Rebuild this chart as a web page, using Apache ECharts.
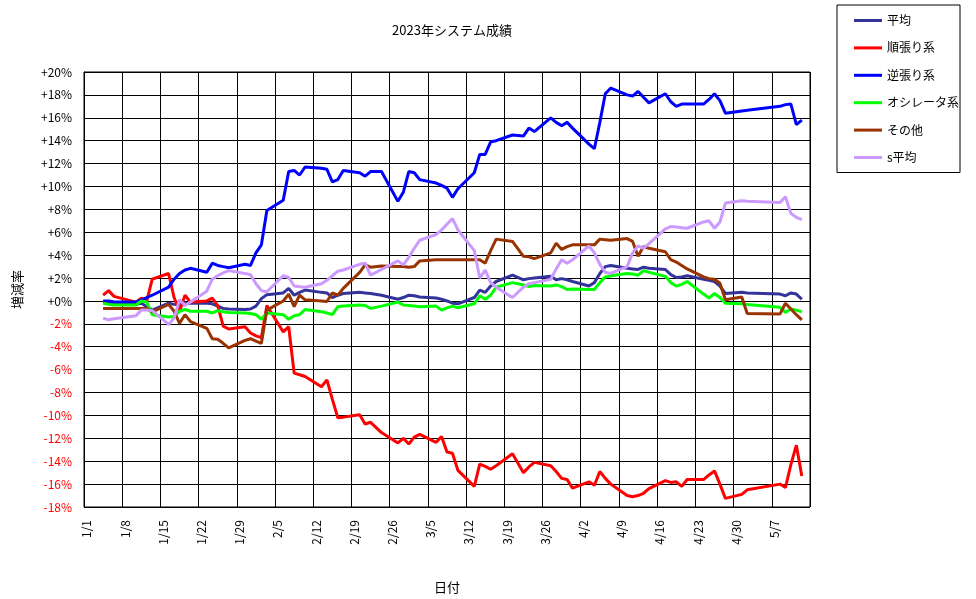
<!DOCTYPE html>
<html>
<head>
<meta charset="utf-8">
<title>2023年システム成績</title>
<script src="https://cdn.jsdelivr.net/npm/echarts@6/dist/echarts.min.js"></script>
<style>
  html, body { margin: 0; padding: 0; background: #fff; }
  #chart { width: 976px; height: 599px; }
</style>
</head>
<body>
<div id="chart"></div>
<script>
// 日付 (取引日)
var dates = [
  '1/4','1/5','1/6','1/10','1/11','1/12','1/13','1/16','1/17','1/18','1/19','1/20','1/23','1/24','1/25','1/26','1/27','1/30','1/31',
  '2/1','2/2','2/3','2/6','2/7','2/8','2/9','2/10','2/13','2/14','2/15','2/16','2/17','2/20','2/21','2/22','2/24','2/27','2/28',
  '3/1','3/2','3/3','3/6','3/7','3/8','3/9','3/10','3/13','3/14','3/15','3/16','3/17','3/20','3/22','3/23','3/24','3/27','3/28','3/29','3/30','3/31',
  '4/3','4/4','4/5','4/6','4/7','4/10','4/11','4/12','4/13','4/14','4/17','4/18','4/19','4/20','4/21','4/24','4/25','4/26','4/27','4/28',
  '5/1','5/2','5/8','5/9','5/10','5/11','5/12'
];

// 増減率 (%)
var heikin = [
  -0.1,-0.2,-0.3,-0.3,-0.2,-0.5,-0.8,-0.2,-0.3,-0.35,-0.25,-0.2,-0.2,-0.25,-0.45,-0.65,-0.7,-0.75,-0.7,
  -0.45,0.2,0.55,0.7,1.1,0.5,0.75,0.95,0.75,0.7,0.3,0.5,0.65,0.75,0.7,0.65,0.5,0.15,0.3,
  0.5,0.45,0.35,0.25,0.15,0.0,-0.2,-0.25,0.3,0.95,0.75,1.3,1.7,2.25,1.85,1.95,2.0,2.15,1.85,1.95,1.85,1.7,
  1.3,1.6,2.4,3.0,3.1,2.85,2.8,2.75,2.95,2.85,2.75,2.3,2.05,2.1,2.2,1.9,1.8,1.7,1.3,0.65,
  0.75,0.7,0.6,0.45,0.7,0.6,0.15
];
var junbari = [
  0.5,0.9,0.4,-0.1,0.25,0.0,1.9,2.4,0.3,-0.9,0.5,-0.1,0.0,0.25,-0.4,-2.2,-2.45,-2.25,-2.8,
  -3.05,-3.2,-0.4,-2.7,-2.25,-6.3,-6.45,-6.6,-7.5,-6.9,-8.6,-10.2,-10.15,-9.95,-10.75,-10.6,-11.5,-12.4,-12.0,
  -12.5,-11.9,-11.65,-12.35,-11.85,-13.2,-13.3,-14.8,-16.2,-14.25,-14.45,-14.7,-14.4,-13.35,-15.0,-14.5,-14.1,-14.4,-14.9,-15.5,-15.6,-16.35,
  -15.8,-16.1,-14.9,-15.5,-16.0,-17.0,-17.1,-17.0,-16.8,-16.4,-15.7,-15.85,-15.8,-16.2,-15.6,-15.6,-15.2,-14.85,-16.0,-17.25,
  -16.9,-16.5,-16.0,-16.3,-14.3,-12.6,-15.3
];
var gyakubari = [
  0.0,0.0,-0.1,-0.1,0.1,0.3,0.5,1.2,1.9,2.4,2.7,2.85,2.5,3.3,3.1,3.0,2.9,3.2,3.1,
  4.2,4.9,7.9,8.8,11.3,11.4,11.0,11.7,11.6,11.5,10.4,10.6,11.4,11.2,10.9,11.3,11.3,8.7,9.5,
  11.3,11.2,10.6,10.3,10.1,9.85,9.05,9.8,11.2,12.8,12.8,13.9,14.0,14.5,14.4,15.1,14.8,16.0,15.6,15.3,15.6,15.1,
  13.7,13.3,15.6,18.1,18.6,18.0,17.9,18.3,17.8,17.3,18.1,17.4,17.0,17.2,17.2,17.2,17.6,18.1,17.5,16.4,
  16.6,16.65,17.0,17.15,17.2,15.4,15.8
];
var oscillator = [
  -0.2,-0.3,-0.35,-0.35,0.0,-0.1,-1.2,-1.4,-1.35,-0.9,-0.75,-0.9,-0.9,-1.05,-0.85,-0.95,-1.0,-1.05,-1.1,
  -1.2,-1.6,-1.05,-1.2,-1.6,-1.3,-1.2,-0.75,-0.95,-1.05,-1.2,-0.5,-0.45,-0.35,-0.4,-0.65,-0.45,-0.1,-0.35,
  -0.4,-0.45,-0.5,-0.45,-0.8,-0.6,-0.45,-0.6,-0.25,0.45,0.15,0.5,1.2,1.6,1.4,1.25,1.35,1.3,1.4,1.25,1.0,1.05,
  1.0,1.0,1.6,2.1,2.2,2.4,2.35,2.25,2.65,2.5,2.15,1.6,1.3,1.45,1.7,0.6,0.25,0.65,0.3,-0.2,
  -0.25,-0.3,-0.55,-1.0,-0.7,-0.8,-0.95
];
var sonota = [
  -0.65,-0.65,-0.65,-0.65,-0.65,-0.65,-0.95,-0.3,-0.9,-1.95,-1.2,-1.8,-2.4,-3.3,-3.35,-3.7,-4.1,-3.45,-3.3,
  -3.5,-3.7,-0.8,0.0,0.6,-0.5,0.5,0.1,0.0,-0.05,0.7,0.5,1.1,2.5,3.15,2.95,3.05,3.0,3.0,
  2.95,3.0,3.5,3.6,3.6,3.6,3.6,3.6,3.6,3.6,3.3,4.4,5.4,5.2,3.9,3.85,3.7,4.2,5.05,4.5,4.75,4.9,
  4.9,4.9,5.4,5.35,5.3,5.45,5.2,3.9,4.75,4.6,4.3,3.6,3.4,3.1,2.8,2.1,1.95,1.9,1.55,0.1,
  0.35,-1.1,-1.15,-0.2,-0.7,-1.2,-1.65
];
var sHeikin = [
  -1.5,-1.65,-1.55,-1.3,-0.8,-0.8,-0.85,-2.05,-1.5,0.1,-0.4,-0.1,0.85,1.9,2.2,2.45,2.65,2.4,2.3,
  1.5,0.9,0.8,2.2,2.05,1.3,1.25,1.2,1.5,1.8,2.2,2.6,2.7,3.2,3.3,2.25,2.75,3.5,3.15,
  3.8,4.6,5.3,5.8,6.2,6.7,7.2,6.2,4.4,2.0,2.7,1.6,1.2,0.3,1.2,1.5,1.6,1.9,2.8,3.6,3.3,3.6,
  4.8,4.2,3.2,2.5,2.4,3.0,4.2,4.8,4.6,5.0,6.3,6.5,6.45,6.4,6.35,6.9,7.0,6.35,6.9,8.55,
  8.75,8.7,8.6,9.1,7.65,7.3,7.1
];

var seriesNames = ['平均', '順張り系', '逆張り系', 'オシレータ系', 'その他', 's平均'];
var seriesValues = [heikin, junbari, gyakubari, oscillator, sonota, sHeikin];
var seriesColors = ['#333399', '#ff0000', '#0000ff', '#00ff00', '#993300', '#cc99ff'];

var FONT = '"Noto Sans CJK JP", sans-serif';
var YEAR = 2023;
var DAY = 86400000;
var jan1 = Date.UTC(YEAR, 0, 1);

// "M/D" -> 1/1 からの日数
function dayIndex(s) {
  var p = s.split('/');
  return (Date.UTC(YEAR, +p[0] - 1, +p[1]) - jan1) / DAY;
}
function dayLabel(v) {
  var d = new Date(jan1 + Math.floor(v) * DAY);
  return (d.getUTCMonth() + 1) + '/' + d.getUTCDate();
}

// ラベルは各日の枠の中央 (1/1, 1/8, ...)
var labelValues = [];
for (var w = 0; w <= 126; w += 7) labelValues.push(w + 0.5);

var series = seriesNames.map(function (name, i) {
  return {
    name: name,
    type: 'line',
    symbol: 'none',
    color: seriesColors[i],
    lineStyle: { width: 3, color: seriesColors[i] },
    data: dates.map(function (d, k) {
      return [dayIndex(d) + 0.5, seriesValues[i][k]];
    })
  };
});

var chart = echarts.init(document.getElementById('chart'));
chart.setOption({
  animation: false,
  backgroundColor: '#fff',
  title: {
    text: '2023年システム成績',
    left: 447,
    top: 19,
    textAlign: 'center',
    textStyle: { fontFamily: FONT, fontSize: 13, fontWeight: 'normal', color: '#000' }
  },
  legend: {
    orient: 'vertical',
    left: 837,
    top: 5,
    padding: [8.5, 1, 8, 17],
    icon: 'rect',
    itemWidth: 28,
    itemHeight: 3,
    itemGap: 13.4,
    borderColor: '#000',
    borderWidth: 1,
    textStyle: { fontFamily: FONT, fontSize: 12, lineHeight: 14, height: 14, color: '#000' },
    data: seriesNames
  },
  grid: { left: 84, top: 72, right: 166, bottom: 92, show: true, borderColor: '#000', borderWidth: 1, backgroundColor: '#fff' },
  xAxis: {
    type: 'value',
    min: 0,
    max: 133,
    interval: 7,
    name: '日付',
    nameLocation: 'middle',
    nameGap: 74,
    nameTextStyle: { fontFamily: FONT, fontSize: 13, color: '#000' },
    axisLine: { show: true, lineStyle: { color: '#000', width: 1 } },
    axisTick: { show: false },
    splitLine: { show: true, lineStyle: { color: '#000', width: 1 } },
    axisLabel: {
      customValues: labelValues,
      rotate: 90,
      margin: 13,
      fontFamily: FONT,
      fontSize: 12,
      color: '#000',
      formatter: dayLabel
    }
  },
  yAxis: {
    type: 'value',
    min: -18,
    max: 20,
    interval: 2,
    name: '増減率',
    nameLocation: 'middle',
    nameGap: 60,
    nameTextStyle: { fontFamily: FONT, fontSize: 13, color: '#000' },
    axisLine: { show: true, lineStyle: { color: '#000', width: 1 } },
    axisTick: { show: false },
    splitLine: { show: true, lineStyle: { color: '#000', width: 1 } },
    axisLabel: {
      margin: 12,
      fontFamily: FONT,
      fontSize: 12,
      color: function (v) { return v < 0 ? '#ff0000' : '#000'; },
      formatter: function (v) { return (v >= 0 ? '+' : '') + v + '%'; }
    }
  },
  series: series
});
</script>
</body>
</html>
